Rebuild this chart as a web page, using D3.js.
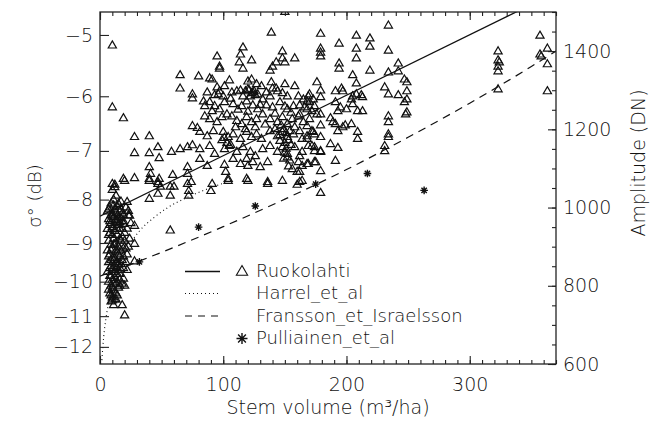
<!DOCTYPE html>
<html>
<head>
<meta charset="utf-8">
<script src="https://cdn.jsdelivr.net/npm/d3@7"></script>
<style>
  body { margin: 0; background: #fff; }
  svg { display: block; }
  text { font-family: "DejaVu Sans", sans-serif; font-weight: 200; fill: #111; }
</style>
</head>
<body>
<svg id="chart" width="655" height="425"></svg>
<script>
// stem volume (m3/ha) ticks, sigma0 ticks (dB), amplitude ticks (DN)
var volTicks = [0, 100, 200, 300];
var dbTicks = [-5, -6, -7, -8, -9, -10, -11, -12];
var dnTicks = [600, 800, 1000, 1200, 1400];

// amplitude at 0 dB : sigma0 = 20*log10(DN / dnAt0dB)
var dnAt0dB = 2563;

// Ruokolahti stands: [stem volume, amplitude DN]
var ruokolahti = [
  [10,1414],[10,1256],[19,1228],[28,1180],[40,1182],[28,1139],[40,1139],[47,1154],[48,1126],
  [40,1103],[41,1086],[40,1073],[19,1073],[28,1075],[10,1060],[12,1058],[10,1045],[12,1052],
  [20,1068],[40,1068],[47,1065],[49,1053],[47,1035],[60,1053],[57,1030],[40,1022],
  [15,1009],[22,1014],[23,991],[24,979],[10,979],[14,966],[16,963],[19,958],[22,946],[28,953],
  [57,941],[28,907],[19,818],[10,762],[18,750],[20,724],[28,862],
  [6,990],[8,1000],[10,985],[12,995],[14,1002],[16,990],[18,985],[7,970],[9,960],[11,975],
  [13,968],[15,955],[17,972],[19,965],[6,945],[8,935],[10,950],[12,940],[14,930],[16,945],
  [18,925],[20,935],[7,915],[9,905],[11,920],[13,910],[15,900],[17,915],[19,895],[6,890],
  [8,880],[10,895],[12,870],[14,885],[16,875],[18,865],[7,860],[9,850],[11,865],[13,845],
  [15,855],[17,840],[6,835],[8,825],[10,840],[12,820],[14,830],[16,815],[18,805],[7,810],
  [9,800],[11,790],[13,805],[15,795],[8,780],[10,770],[12,785],[14,775],[9,760],[11,750],
  [13,765],[22,880],[23,900],[21,860],[24,920],[22,840],[20,800],[25,960],[23,980],[21,1000],
  [9,1010],[11,1020],[13,1030],[17,1015],[8,955],[12,905],[10,870],[14,860],[9,825],[16,830],
  [7,995],[9,980],[11,1005],[13,985],[15,975],[17,995],[19,980],[8,965],[10,930],[12,955],
  [14,945],[16,920],[18,945],[20,915],[7,930],[9,890],[11,905],[13,890],[15,880],[17,890],
  [19,875],[21,895],[7,875],[9,865],[11,850],[13,860],[15,840],[17,855],[19,845],[8,845],
  [10,815],[12,835],[14,810],[16,800],[7,790],[9,775],[11,805],[13,780],[10,795],[12,765],
  [150,1500],[139,1447],[116,1409],[148,1399],[95,1386],[114,1391],[148,1381],[158,1381],
  [123,1376],[113,1371],[143,1371],[150,1371],[97,1360],[97,1355],[116,1355],[140,1360],
  [138,1350],[65,1338],[65,1304],[80,1335],[89,1330],[91,1327],[105,1325],[120,1322],
  [123,1327],[127,1315],[131,1310],[139,1320],[150,1315],[176,1320],[95,1307],[101,1310],
  [143,1304],[158,1310],[75,1289],[75,1279],[87,1294],[97,1297],[96,1289],[100,1284],
  [93,1287],[107,1294],[111,1297],[114,1299],[118,1297],[120,1302],[124,1294],[128,1289],
  [135,1294],[140,1304],[144,1297],[148,1292],[152,1284],[161,1284],[165,1276],[169,1284],
  [173,1276],[132,1276],[138,1284],[84,1271],[85,1259],[89,1269],[93,1259],[91,1246],
  [97,1251],[101,1269],[108,1264],[115,1259],[119,1271],[124,1261],[128,1251],[135,1261],
  [140,1256],[146,1269],[152,1251],[157,1259],[162,1261],[168,1251],[174,1259],
  [75,1208],[79,1203],[85,1233],[89,1226],[95,1218],[99,1231],[103,1238],[107,1233],
  [111,1221],[115,1213],[119,1231],[123,1218],[127,1226],[132,1238],[138,1226],[144,1218],
  [148,1231],[152,1213],[156,1226],[161,1233],[165,1218],[170,1226],[176,1238],
  [81,1193],[87,1182],[92,1195],[100,1193],[104,1180],[108,1187],[114,1175],[119,1193],
  [123,1180],[127,1187],[131,1175],[138,1195],[144,1182],[148,1193],[152,1180],[157,1187],
  [162,1195],[168,1182],[173,1193],
  [58,1142],[65,1149],[71,1154],[75,1159],[81,1149],[89,1157],[93,1137],[101,1149],
  [105,1157],[111,1142],[116,1154],[122,1142],[126,1131],[132,1149],[138,1157],[144,1142],
  [148,1154],[152,1137],[158,1154],[164,1142],[169,1157],[174,1144],
  [48,1073],[47,1060],[57,1053],[59,1083],[71,1103],[71,1086],[74,1065],[72,1042],[72,1030],
  [91,1060],[90,1042],[101,1109],[102,1091],[104,1073],[119,1124],[120,1106],[119,1073],
  [136,1116],[136,1065],[148,1068],[160,1091],[162,1065],[161,1116],[169,1111],[175,1116],
  [81,1124],[87,1106],[108,1124],[114,1111],[124,1116],[130,1103],
  [71,1060],[104,1068],[120,1068],[136,1060],[160,1058],
  [121,1300],[123,1292],[125,1297],[126,1287],[122,1284],[147,1210],[149,1200],[151,1190],
  [153,1172],[150,1165],[146,1170],[99,1172],[103,1165],[106,1160],[101,1178],
  [150,1140],[152,1128],[154,1120],[151,1150],[155,1160],[149,1125],[153,1105],[156,1098],
  [110,1205],[118,1200],[126,1205],[134,1212],[142,1200],[146,1185],[154,1195],[158,1205],
  [112,1250],[120,1245],[130,1262],[142,1240],[150,1258],[155,1242],[106,1278],[116,1284],
  [234,1465],[179,1444],[208,1439],[219,1432],[194,1419],[179,1406],[179,1396],[179,1386],
  [208,1406],[219,1411],[208,1381],[234,1401],[194,1368],[194,1355],[242,1368],[219,1350],
  [242,1348],[234,1345],[205,1338],[208,1317],[247,1327],[249,1320],[179,1299],[179,1282],
  [170,1289],[191,1297],[196,1304],[197,1297],[205,1284],[208,1289],[212,1287],[213,1282],
  [231,1307],[234,1289],[242,1287],[249,1297],[249,1276],[247,1269],[249,1243],[248,1238],
  [168,1271],[170,1269],[166,1256],[172,1246],[179,1238],[179,1210],[191,1269],[195,1256],
  [193,1246],[204,1276],[205,1264],[200,1251],[209,1246],[213,1246],[162,1238],[168,1208],
  [172,1195],[164,1175],[168,1175],[187,1228],[189,1218],[191,1213],[197,1205],[199,1210],
  [204,1213],[209,1193],[209,1175],[234,1233],[234,1218],[234,1187],[234,1180],[174,1187],
  [179,1180],[193,1195],[172,1157],[174,1154],[179,1144],[179,1142],[187,1162],[193,1152],
  [191,1119],[231,1157],[231,1144],[162,1131],[164,1106],[168,1111],[174,1116],[179,1093],
  [162,1091],[164,1068],[179,1037],
  [323,1399],[323,1376],[324,1371],[323,1360],[323,1348],[323,1302],
  [357,1439],[357,1391],[358,1386],[363,1406],[363,1366],[363,1297]
];

// Ruokolahti regression line (straight in amplitude)
var ruokolahtiFit = [[0, 978], [370, 1550]];

// Harrel et al. model curve: [stem volume, amplitude DN]
var harrel = [
  [1.5,610],[3,670],[5,720],[8,775],[12,822],[16,858],[22,895],[32,940],
  [44,975],[55,1000],[70,1025],[85,1045],[100,1062]
];

// Fransson & Israelsson model: [stem volume, sigma0 dB]
var fransson = [
  [0,-9.85],[50,-9.23],[100,-8.61],[150,-7.99],[200,-7.37],
  [250,-6.74],[300,-6.12],[350,-5.50],[370,-5.25]
];

// Pulliainen et al.: [stem volume, amplitude DN]
var pulliainen = [
  [32,861],[80,950],[126,1004],[175,1060],[217,1087],[263,1044]
];

var legendNames = ["Ruokolahti", "Harrel_et_al", "Fransson_et_Israelsson", "Pulliainen_et_al"];

function dbToDn(db) { return dnAt0dB * Math.pow(10, db / 20); }

var svg = d3.select("#chart");
var box = { left: 100, right: 556, top: 12, bottom: 364 };

var x = d3.scaleLinear().domain([0, 370]).range([box.left, box.right]);
var y = d3.scaleLinear().domain([600, 1500]).range([box.bottom, box.top]);

svg.append("clipPath").attr("id", "plot-clip")
  .append("rect")
  .attr("x", box.left).attr("y", box.top)
  .attr("width", box.right - box.left).attr("height", box.bottom - box.top);

var plot = svg.append("g").attr("clip-path", "url(#plot-clip)");

// triangles
var tri = d3.symbol().type(d3.symbolTriangle).size(29);
plot.append("g")
  .selectAll("path")
  .data(ruokolahti)
  .join("path")
  .attr("d", tri)
  .attr("transform", d => "translate(" + x(d[0]) + "," + y(d[1]) + ")")
  .style("fill", "none")
  .style("stroke", "#111")
  .style("stroke-width", "1.2px");

var line = d3.line().x(d => x(d[0])).y(d => y(d[1]));

plot.append("path")
  .datum(ruokolahtiFit)
  .attr("d", line)
  .style("fill", "none").style("stroke", "#111").style("stroke-width", "1.3px");

plot.append("path")
  .datum(harrel)
  .attr("d", d3.line().x(d => x(d[0])).y(d => y(d[1])).curve(d3.curveMonotoneX))
  .style("fill", "none").style("stroke", "#111").style("stroke-width", "1.1px")
  .style("stroke-dasharray", "1,3");

plot.append("path")
  .datum(fransson.map(d => [d[0], dbToDn(d[1])]))
  .attr("d", d3.line().x(d => x(d[0])).y(d => y(d[1])).curve(d3.curveMonotoneX))
  .style("fill", "none").style("stroke", "#111").style("stroke-width", "1.2px")
  .style("stroke-dasharray", "8,6");

function asterisk(r) {
  var d = r * 0.7071;
  return "M" + (-r) + ",0L" + r + ",0M0," + (-r) + "L0," + r +
    "M" + (-d) + "," + (-d) + "L" + d + "," + d +
    "M" + (-d) + "," + d + "L" + d + "," + (-d);
}

plot.append("g")
  .selectAll("path")
  .data(pulliainen)
  .join("path")
  .attr("d", asterisk(3.8))
  .attr("transform", d => "translate(" + x(d[0]) + "," + y(d[1]) + ")")
  .style("fill", "none").style("stroke", "#111").style("stroke-width", "1.4px");

// axes
function styleAxis(g) {
  g.select(".domain").remove();
  g.selectAll(".tick line").style("stroke", "#222").style("stroke-width", "1.1px");
  g.selectAll(".tick text").style("font-size", "19px").style("fill", "#111");
}

svg.append("g").attr("transform", "translate(0," + box.bottom + ")")
  .call(d3.axisBottom(x).tickValues(d3.range(0, 371, 10)).tickSizeInner(-4).tickFormat(""))
  .call(styleAxis);
svg.append("g").attr("transform", "translate(0," + box.bottom + ")")
  .call(d3.axisBottom(x).tickValues(volTicks).tickSizeInner(-8).tickPadding(14).tickFormat(d3.format("d")))
  .call(styleAxis);

svg.append("g").attr("transform", "translate(0," + box.top + ")")
  .call(d3.axisTop(x).tickValues(d3.range(0, 371, 10)).tickSizeInner(-4).tickFormat(""))
  .call(styleAxis);
svg.append("g").attr("transform", "translate(0," + box.top + ")")
  .call(d3.axisTop(x).tickValues(volTicks).tickSizeInner(-8).tickFormat(""))
  .call(styleAxis);

svg.append("g").attr("transform", "translate(" + box.left + ",0)")
  .call(d3.axisLeft(y).tickValues(dbTicks.map(dbToDn)).tickSizeInner(-9).tickPadding(7)
    .tickFormat((d, i) => "\u2212" + Math.abs(dbTicks[i])))
  .call(styleAxis);

svg.append("g").attr("transform", "translate(" + box.right + ",0)")
  .call(d3.axisRight(y).tickValues(d3.range(600, 1501, 50)).tickSizeInner(-4).tickFormat(""))
  .call(styleAxis);
svg.append("g").attr("transform", "translate(" + box.right + ",0)")
  .call(d3.axisRight(y).tickValues(dnTicks).tickSizeInner(-8).tickPadding(7).tickFormat(d3.format("d")))
  .call(styleAxis);

svg.append("rect")
  .attr("x", box.left).attr("y", box.top)
  .attr("width", box.right - box.left).attr("height", box.bottom - box.top)
  .style("fill", "none").style("stroke", "#222").style("stroke-width", "1.3px");

// titles
svg.append("text")
  .attr("x", (box.left + box.right) / 2).attr("y", 414)
  .attr("text-anchor", "middle")
  .style("font-size", "19px")
  .text("Stem volume (m\u00b3/ha)");

svg.append("text")
  .attr("transform", "translate(35,196) rotate(-90)")
  .attr("text-anchor", "middle").attr("dy", "0.35em")
  .style("font-size", "18px")
  .text("\u03c3\u00b0 (dB)");

svg.append("text")
  .attr("transform", "translate(638,163) rotate(-90)")
  .attr("text-anchor", "middle").attr("dy", "0.35em")
  .style("font-size", "19px")
  .text("Amplitude (DN)");

// legend
var legend = svg.append("g");
var rowY = [271.5, 293.5, 316, 338.5];
var dashes = [null, "1,3", "7,6", null];

[0, 1, 2].forEach(function(i) {
  legend.append("line")
    .attr("x1", 185).attr("x2", 220)
    .attr("y1", rowY[i]).attr("y2", rowY[i])
    .style("stroke", "#111").style("stroke-width", i == 0 ? "1.3px" : "1.1px")
    .style("stroke-dasharray", dashes[i]);
});

legend.append("path")
  .attr("d", d3.symbol().type(d3.symbolTriangle).size(55))
  .attr("transform", "translate(242," + (rowY[0] + 0.5) + ")")
  .style("fill", "none").style("stroke", "#111").style("stroke-width", "1.1px");

legend.append("path")
  .attr("d", asterisk(5.5))
  .attr("transform", "translate(242," + rowY[3] + ")")
  .style("fill", "none").style("stroke", "#111").style("stroke-width", "1.4px");

legend.selectAll("text.name")
  .data(legendNames)
  .join("text")
  .attr("class", "name")
  .attr("x", 256)
  .attr("y", (d, i) => rowY[i] + 5.5)
  .style("font-size", "18px")
  .text(d => d);
</script>
</body>
</html>
